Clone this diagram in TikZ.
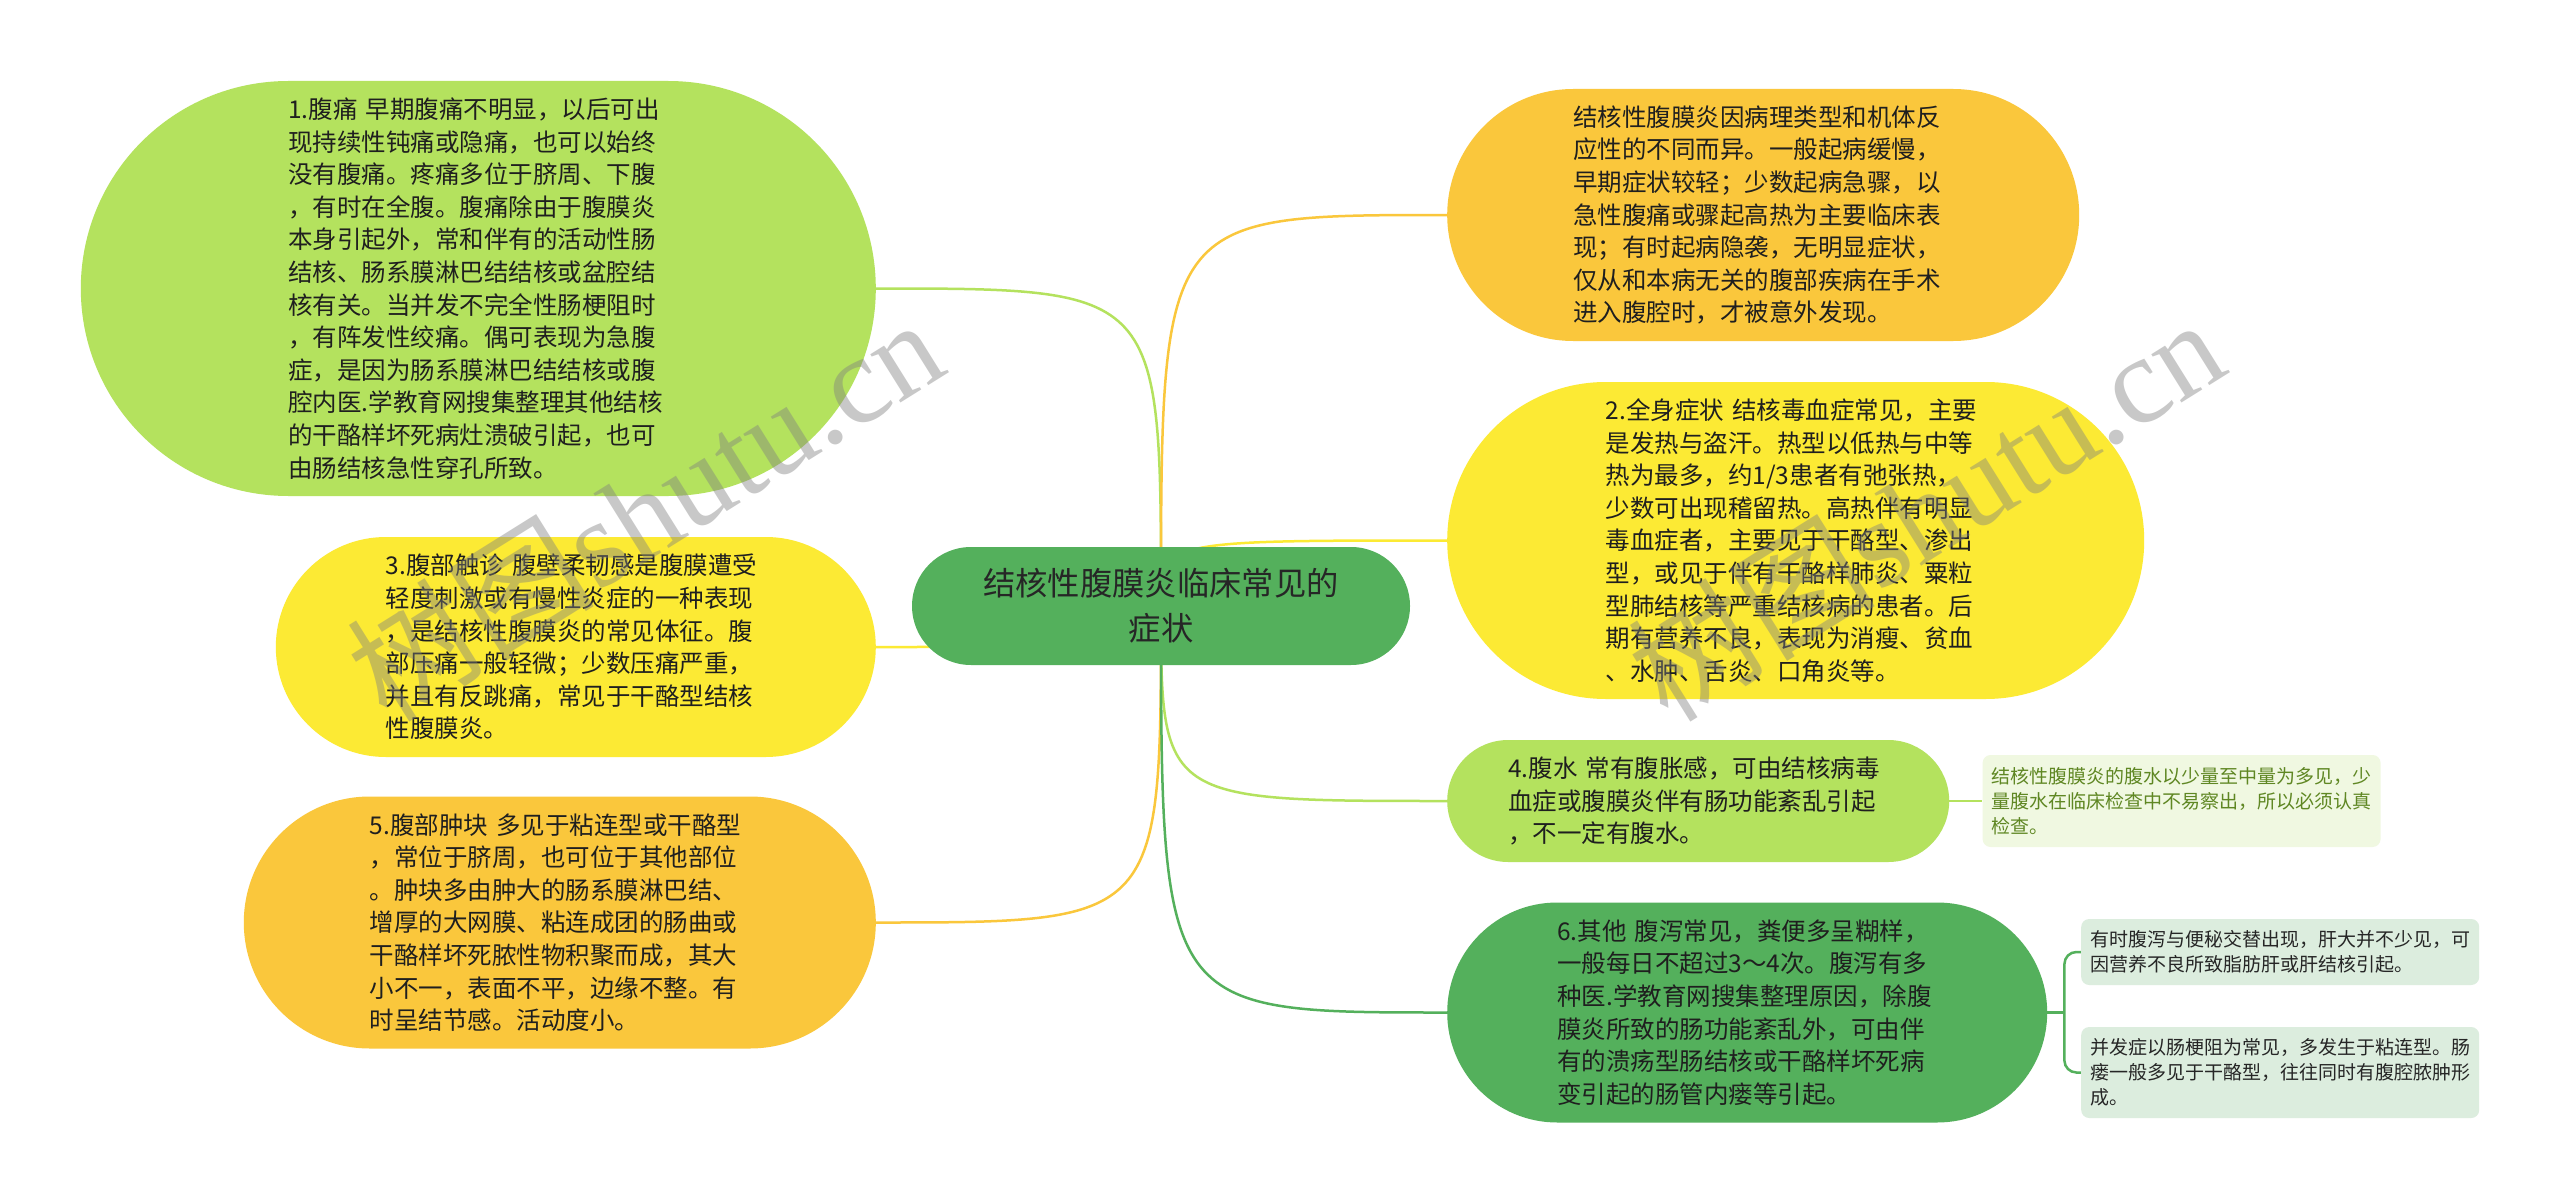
\documentclass[tikz,border=0pt]{standalone}
\usepackage{fontspec}
\setmainfont{Noto Sans CJK SC}
\newfontfamily\wmfont{Liberation Serif}
\usetikzlibrary{positioning,backgrounds}

\definecolor{mmLime}{HTML}{B4E25E}
\definecolor{mmYellow}{HTML}{FCEA34}
\definecolor{mmOrange}{HTML}{FAC73C}
\definecolor{mmGreen}{HTML}{54B05C}
\definecolor{noteLime}{HTML}{F0F8E1}
\definecolor{noteGreen}{HTML}{DCEDDE}
\definecolor{noteText}{HTML}{5F8723}

\begin{document}
\begin{tikzpicture}[x=1pt,y=-1pt,
      topic/.style={
         rectangle,
         fill=#1,
         text=black!88,
         inner ysep=0pt,
         text width=380pt,
         align=left,
         font=\fontsize{24.5}{32.6}\selectfont},
      capsule/.style={
         inner xsep=#1,
         rounded corners=#1,
         minimum height=2*#1},
      rootbox/.style={
         rectangle,
         rounded corners=59pt,
         fill=mmGreen,
         text=black!85,
         minimum width=498pt,
         minimum height=118pt,
         align=center,
         font=\fontsize{32.3}{45}\selectfont},
      note/.style={
         rectangle,
         rounded corners=8pt,
         fill=#1,
         text=black!85,
         inner xsep=9pt,
         inner ysep=0pt,
         text width=380pt,
         align=left,
         font=\fontsize{19}{25}\selectfont},
      link/.style={draw=#1, line width=2.5pt},
      wmark/.style={text=black!50, text opacity=0.43, rotate=32,
         font=\fontsize{124}{124}\selectfont}
      ]
      \useasboundingbox (0,0) rectangle (2560,1204);

      \node[rootbox] (root) at (1161,606) {结核性腹膜炎临床常见的\\症状};

      % left side
      \node[topic=mmLime, capsule=207.5pt, anchor=east] (s1) at (876,288.5) {%
1.腹痛 早期腹痛不明显，以后可出\\
现持续性钝痛或隐痛，也可以始终\\
没有腹痛。疼痛多位于脐周、下腹\\
，有时在全腹。腹痛除由于腹膜炎\\
本身引起外，常和伴有的活动性肠\\
结核、肠系膜淋巴结结核或盆腔结\\
核有关。当并发不完全性肠梗阻时\\
，有阵发性绞痛。偶可表现为急腹\\
症，是因为肠系膜淋巴结结核或腹\\
腔内医.学教育网搜集整理其他结核\\
的干酪样坏死病灶溃破引起，也可\\
由肠结核急性穿孔所致。};
      \node[topic=mmYellow, capsule=110pt, anchor=east] (s3) at (876,647) {%
3.腹部触诊 腹壁柔韧感是腹膜遭受\\
轻度刺激或有慢性炎症的一种表现\\
，是结核性腹膜炎的常见体征。腹\\
部压痛一般轻微；少数压痛严重，\\
并且有反跳痛，常见于干酪型结核\\
性腹膜炎。};
      \node[topic=mmOrange, capsule=126pt, anchor=east] (s5) at (876,922.5) {%
5.腹部肿块 多见于粘连型或干酪型\\
，常位于脐周，也可位于其他部位\\
。肿块多由肿大的肠系膜淋巴结、\\
增厚的大网膜、粘连成团的肠曲或\\
干酪样坏死脓性物积聚而成，其大\\
小不一，表面不平，边缘不整。有\\
时呈结节感。活动度小。};

      % right side
      \node[topic=mmOrange, capsule=126pt, anchor=west] (s0) at (1447,215) {%
结核性腹膜炎因病理类型和机体反\\
应性的不同而异。一般起病缓慢，\\
早期症状较轻；少数起病急骤，以\\
急性腹痛或骤起高热为主要临床表\\
现；有时起病隐袭，无明显症状，\\
仅从和本病无关的腹部疾病在手术\\
进入腹腔时，才被意外发现。};
      \node[topic=mmYellow, capsule=158.5pt, anchor=west] (s2) at (1447,540.5) {%
2.全身症状 结核毒血症常见，主要\\
是发热与盗汗。热型以低热与中等\\
热为最多，约1/3患者有弛张热，\\
少数可出现稽留热。高热伴有明显\\
毒血症者，主要见于干酪型、渗出\\
型，或见于伴有干酪样肺炎、粟粒\\
型肺结核等严重结核病的患者。后\\
期有营养不良，表现为消瘦、贫血\\
、水肿、舌炎、口角炎等。};
      \node[topic=mmLime, capsule=61pt, anchor=west] (s4) at (1447,801) {%
4.腹水 常有腹胀感，可由结核病毒\\
血症或腹膜炎伴有肠功能紊乱引起\\
，不一定有腹水。};
      \node[topic=mmGreen, capsule=110pt, anchor=west] (s6) at (1447,1012.5) {%
6.其他 腹泻常见，粪便多呈糊样，\\
一般每日不超过3～4次。腹泻有多\\
种医.学教育网搜集整理原因，除腹\\
膜炎所致的肠功能紊乱外，可由伴\\
有的溃疡型肠结核或干酪样坏死病\\
变引起的肠管内瘘等引起。};

      % notes
      \node[note=noteLime, text=noteText, minimum height=92pt, right=33pt of s4] (a4) {%
结核性腹膜炎的腹水以少量至中量为多见，少\\
量腹水在临床检查中不易察出，所以必须认真\\
检查。};
      \node[note=noteGreen, minimum height=66pt, anchor=west] (a6) at (2081,952) {%
有时腹泻与便秘交替出现，肝大并不少见，可\\
因营养不良所致脂肪肝或肝结核引起。};
      \node[note=noteGreen, minimum height=91pt, anchor=west] (b6) at (2081,1072.5) {%
并发症以肠梗阻为常见，多发生于粘连型。肠\\
瘘一般多见于干酪型，往往同时有腹腔脓肿形\\
成。};
      \coordinate (br) at ([xshift=17pt]s6.east);

      \begin{scope}[on background layer]
      \fill[white] (0,0) rectangle (2560,1204);
      \foreach \i/\a/\col in {% node/side anchor/colour
        s1/east/mmLime,
        s3/east/mmYellow,
        s5/east/mmOrange,
        s0/west/mmOrange,
        s2/west/mmYellow,
        s4/west/mmLime,
        s6/west/mmGreen}
        \draw[link=\col] (root.center) .. controls (root.center |- \i.\a) .. (\i.\a);
      \draw[link=mmLime] (s4.east) -- (a4.west);
      \draw[link=mmGreen] (s6.east) -- (br);
      \draw[link=mmGreen, rounded corners=12pt] (a6.west) -| (br) |- (b6.west);
      \end{scope}

      % watermarks
      \node[wmark] (wm1) at (644,508) {树图{\wmfont shutu.cn}};
      \node[wmark] (wm2) at (1925,508) {树图{\wmfont shutu.cn}};
\end{tikzpicture}
\end{document}
